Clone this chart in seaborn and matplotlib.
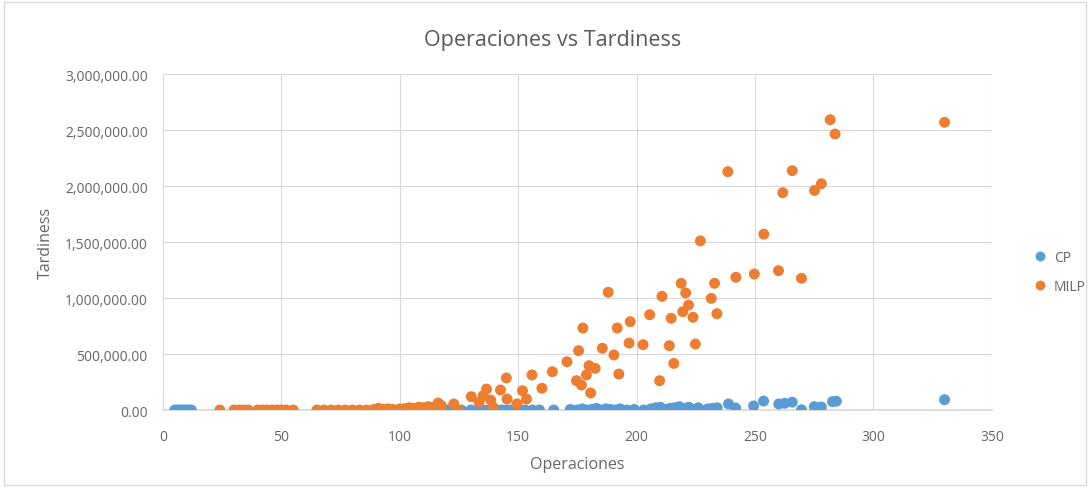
import numpy as np
import pandas as pd
import matplotlib
matplotlib.use("Agg")
import matplotlib.pyplot as plt
import seaborn as sns
from matplotlib.ticker import FuncFormatter, MultipleLocator

# ---- data ----
cp_ops = [5, 6, 7, 8, 9, 10, 11, 12,
          116, 118, 120, 123, 126, 130, 133, 135, 137, 139, 141, 143, 145, 147, 149,
          151, 153, 156, 159, 165, 172, 175, 177, 179, 181, 183, 185, 187, 189, 191,
          193, 196, 199, 203, 206, 208, 210, 212, 214, 216, 218, 220, 222, 224, 226,
          230, 232, 234, 238.8, 241.8, 249.4, 253.6, 260, 262.5, 265.7, 269.6, 275,
          278, 282.7, 284.3, 330]
cp_tard = [0, 0, 0, 0, 0, 0, 0, 0,
           0, 0, 0, 0, 0, 0, 0, 0, 0, 0, 0, 0, 0, 0, 0,
           0, 0, 0, 0, 0, 5000, 0, 10000, 0, 5000, 15000, 0, 10000, 5000, 0,
           10000, 0, 5000, 0, 10000, 20000, 25000, 5000, 15000, 20000, 30000, 10000, 25000, 5000, 20000,
           10000, 15000, 20000, 54000, 18000, 36000, 80000, 54000, 60000, 70000, 2000, 30000,
           27000, 75000, 78000, 92000]

milp_ops = [24, 30, 32, 34, 36, 40, 42, 44, 46, 48, 50, 52, 55,
            65, 68, 71, 74, 77, 80, 83, 86, 89, 91, 93, 95, 97, 100, 102, 104, 106,
            108, 110, 112, 114, 116.2, 117.5, 122.8, 124.6,
            130.2, 133.5, 135.2, 136.6, 138.4, 139.4, 142.5, 145, 145.3, 149.5, 151.8,
            153.5, 155.8, 160, 164.4, 170.6, 174.6, 175.5, 176.7, 177.3, 178.8, 179.9,
            180.6, 182.5, 185.5, 188, 190.4, 191.8, 192.5, 196.8, 197.3, 202.7, 205.5,
            209.7, 210.7, 213.8, 214.6, 215.7, 218.8, 219.5, 220.7, 221.9, 223.8, 224.8,
            226.9, 231.5, 232.9, 233.9, 238.5, 241.9, 249.7, 253.7, 259.9, 261.7, 265.7,
            269.6, 275.1, 278, 281.7, 283.8, 330]
milp_tard = [0, 0, 0, 0, 0, 0, 0, 0, 0, 0, 0, 0, 0,
             0, 0, 0, 0, 0, 0, 0, 0, 5000, 15000, 8000, 10000, 5000, 10000, 12000, 20000, 15000,
             25000, 20000, 30000, 24000, 62000, 40000, 54000, 0,
             119000, 69000, 128000, 187000, 89000, 24000, 179000, 286000, 98000, 54000, 172000,
             98000, 313000, 194000, 342000, 431000, 262000, 530000, 223000, 732000, 313000, 396000,
             152000, 372000, 551000, 1051000, 491000, 732000, 321000, 598000, 789000, 583000, 851000,
             262000, 1015000, 574000, 819000, 416000, 1131000, 878000, 1045000, 937000, 828000, 589000,
             1510000, 997000, 1131000, 860000, 2128000, 1185000, 1214000, 1570000, 1244000, 1940000, 2137000,
             1176000, 1960000, 2020000, 2592000, 2464000, 2569000]

series_names = ["CP", "MILP"]
colors = ["#5B9BD5", "#ED7D31"]

df = pd.DataFrame({
    "Operaciones": cp_ops + milp_ops,
    "Tardiness": cp_tard + milp_tard,
    "Serie": [series_names[0]] * len(cp_ops) + [series_names[1]] * len(milp_ops),
})

sns.set_theme(style="white")
plt.rcParams["font.family"] = ["Open Sans", "DejaVu Sans"]

fig = plt.figure(figsize=(10.9, 4.89), dpi=100)
ax = fig.add_axes([0.1495, 0.1595, 0.7605, 0.6871])

sns.scatterplot(data=df, x="Operaciones", y="Tardiness", hue="Serie",
                palette=dict(zip(series_names, colors)), s=62, linewidth=0,
                ax=ax, legend=True, zorder=3)

ax.set_xlim(0, 350)
ax.set_ylim(0, 3000000)
ax.xaxis.set_major_locator(MultipleLocator(50))
ax.yaxis.set_major_locator(MultipleLocator(500000))
ax.yaxis.set_major_formatter(FuncFormatter(lambda v, p: f"{v:,.2f}"))
ax.grid(True, color="#d9d9d9", linewidth=0.8, zorder=0)
ax.set_axisbelow(True)
for side in ["top", "right", "left"]:
    ax.spines[side].set_visible(False)
ax.spines["bottom"].set_color("#d9d9d9")
ax.tick_params(axis="y", length=0, labelsize=10, colors="#666666", pad=11)
ax.tick_params(axis="x", length=0, labelsize=10, colors="#666666", pad=14)

ax.set_xlabel("Operaciones", fontsize=11.5, color="#666666", labelpad=8)
ax.set_ylabel("Tardiness", fontsize=11.5, color="#666666", labelpad=8)
fig.text(0.507, 0.918, "Operaciones vs Tardiness", ha="center", va="center",
         fontsize=15.5, color="#595959")

leg = ax.legend(loc="center left", bbox_to_anchor=(0.93, 0.442),
                bbox_transform=fig.transFigure, frameon=False, fontsize=10,
                handletextpad=0.0, labelspacing=1.0, markerscale=0.9)
for t in leg.get_texts():
    t.set_color("#666666")

border = plt.Rectangle((0.004, 0.006), 0.992, 0.988, transform=fig.transFigure,
                       fill=False, edgecolor="#d9d9d9", linewidth=1)
fig.patches.append(border)

fig.savefig("out.png", dpi=100, facecolor="white")
